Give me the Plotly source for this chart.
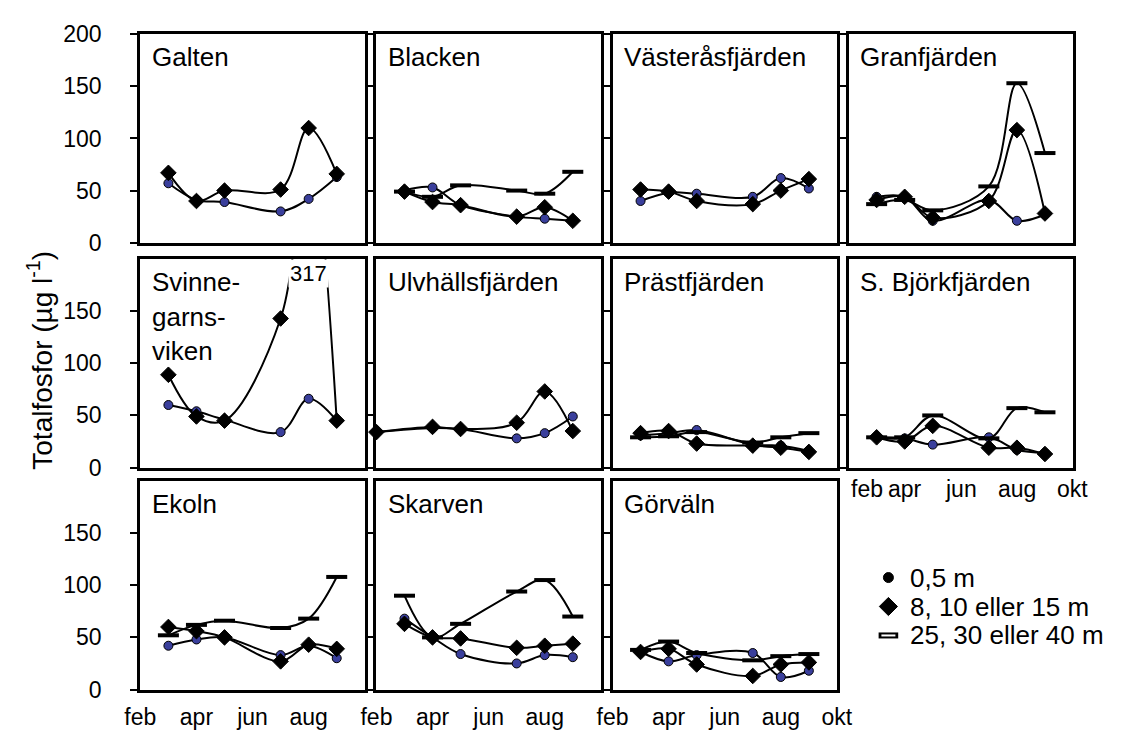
import plotly.graph_objects as go

# ---------------- data (µg/l) ----------------
month_labels = ["feb", "apr", "jun", "aug", "okt"]
month_ticks = [2, 4, 6, 8, 10]

x_std = [3, 4, 5, 7, 8, 9]
x_ulv = [2, 4, 5, 7, 8, 9]

galten_s = [57, 41, 39, 30, 42, 63]
galten_m = [67, 40, 50, 51, 110, 66]

blacken_s = [50, 53, 36, 25, 23, 21]
blacken_m = [49, 39, 36, 25, 34, 21]
blacken_d = [49, 44, 55, 50, 47, 68]

vasteras_s = [40, 48, 47, 44, 62, 52]
vasteras_m = [51, 49, 40, 37, 50, 61]

granf_s = [44, 44, 21, 41, 21, 27]
granf_m = [41, 44, 24, 40, 108, 28]
granf_d = [37, 41, 31, 54, 153, 86]

svinne_s = [60, 54, 46, 34, 66, 45]
svinne_m = [89, 49, 45, 143, 317, 45]

ulv_s = [34, 38, 37, 28, 33, 49]
ulv_m = [34, 39, 37, 43, 73, 35]

prast_s = [31, 33, 36, 22, 21, 16]
prast_m = [33, 35, 23, 21, 19, 15]
prast_d = [29, 30, 34, 24, 29, 33]

bjork_s = [29, 28, 22, 29, 17, 14]
bjork_m = [29, 25, 40, 19, 19, 13]
bjork_d = [29, 29, 50, 28, 57, 53]

ekoln_s = [42, 48, 50, 33, 42, 30]
ekoln_m = [60, 56, 50, 27, 43, 39]
ekoln_d = [52, 62, 66, 59, 68, 108]

skarven_s = [68, 50, 34, 25, 33, 31]
skarven_m = [63, 50, 49, 40, 42, 44]
skarven_d = [90, 50, 63, 94, 105, 70]

gorvaln_s = [36, 27, 33, 35, 12, 18]
gorvaln_m = [36, 39, 24, 13, 24, 26]
gorvaln_d = [38, 46, 35, 28, 32, 34]

panels = [
    ("Galten", 0, 0, x_std, galten_s, galten_m, None),
    ("Blacken", 0, 1, x_std, blacken_s, blacken_m, blacken_d),
    ("Västeråsfjärden", 0, 2, x_std, vasteras_s, vasteras_m, None),
    ("Granfjärden", 0, 3, x_std, granf_s, granf_m, granf_d),
    ("Svinne-|garns-|viken", 1, 0, x_std, svinne_s, svinne_m, None),
    ("Ulvhällsfjärden", 1, 1, x_ulv, ulv_s, ulv_m, None),
    ("Prästfjärden", 1, 2, x_std, prast_s, prast_m, prast_d),
    ("S. Björkfjärden", 1, 3, x_std, bjork_s, bjork_m, bjork_d),
    ("Ekoln", 2, 0, x_std, ekoln_s, ekoln_m, ekoln_d),
    ("Skarven", 2, 1, x_std, skarven_s, skarven_m, skarven_d),
    ("Görväln", 2, 2, x_std, gorvaln_s, gorvaln_m, gorvaln_d),
]

legend_names = ["0,5 m", "8, 10 eller 15 m", "25, 30 eller 40 m"]

# ---------------- layout geometry ----------------
W, H = 1123, 744
col_left = [128, 371, 614, 857]
col_w = 231
row_top = [22, 255, 485]
row_h = 216
YMAX = 200
FONT = "Liberation Sans, Arial, Helvetica, sans-serif"
BLUE = "#3a3f9c"
TICK_FS = 23
NAME_FS = 26

fig = go.Figure()
layout = dict(
    width=W, height=H, margin=dict(l=0, r=0, t=0, b=0),
    paper_bgcolor="white", plot_bgcolor="white",
    font=dict(family=FONT, size=TICK_FS, color="black"),
    showlegend=False,
)
annotations = []

bottom_panels = {(2, 0), (2, 1), (2, 2)}
side_panel = (1, 3)   # its month labels are written as text (first one left-aligned)

for i, (name, r, c, xs, s, m, d) in enumerate(panels):
    k = i + 1
    xa = "x" if k == 1 else f"x{k}"
    ya = "y" if k == 1 else f"y{k}"
    x0 = col_left[c]
    y0 = row_top[r]
    is_bottom = (r, c) in bottom_panels
    if c in (0, 1):
        tv, tt = month_ticks[:4], month_labels[:4]
    else:
        tv, tt = month_ticks, month_labels
    layout["xaxis" if k == 1 else f"xaxis{k}"] = dict(
        domain=[x0 / W, (x0 + col_w) / W], range=[2, 10], anchor=ya,
        showline=True, mirror=True, linecolor="black", linewidth=2.5,
        showgrid=False, zeroline=False, ticks="",
        tickvals=tv, ticktext=tt, showticklabels=is_bottom, ticklabelstandoff=5,
        tickfont=dict(size=TICK_FS), fixedrange=True,
    )
    if (r, c) == side_panel:
        for tvv, ttt in zip(tv, tt):
            annotations.append(dict(
                x=tvv, y=1 - (y0 + row_h + 22) / H, xref=xa, yref="paper",
                text=ttt, showarrow=False,
                xanchor="left" if tvv == tv[0] else "center", yanchor="middle",
                font=dict(size=TICK_FS),
            ))
    yt = [0, 50, 100, 150, 200] if r == 0 else [0, 50, 100, 150]
    layout["yaxis" if k == 1 else f"yaxis{k}"] = dict(
        domain=[1 - (y0 + row_h) / H, 1 - y0 / H], range=[0, YMAX], anchor=xa,
        showline=True, mirror=True, linecolor="black", linewidth=2.5,
        showgrid=False, zeroline=False, ticks="outside", ticklen=8,
        tickwidth=2, tickcolor="black", tickvals=yt,
        ticktext=[f"{v}\u2002" for v in yt], ticklabelstandoff=12,
        showticklabels=(c == 0), tickfont=dict(size=TICK_FS), fixedrange=True,
    )

    series = [(s, "circle", BLUE, 9, 1), (m, "diamond", "black", 12, 1)]
    if d is not None:
        series.append((d, "line-ew", "black", 15, 4))
    for vals, sym, col, sz, lw in series:
        # smooth line through all values (clipped by the axes)
        fig.add_trace(go.Scatter(
            x=xs, y=vals, mode="lines", xaxis=xa, yaxis=ya,
            line=dict(color="black", width=2, shape="spline"),
            showlegend=False, hoverinfo="skip",
        ))
        # markers only for values inside the plotted range
        mv = [v if v <= YMAX else None for v in vals]
        fig.add_trace(go.Scatter(
            x=xs, y=mv, mode="markers", xaxis=xa, yaxis=ya, cliponaxis=False,
            marker=dict(symbol=sym, size=sz, color=col,
                        line=dict(color="black", width=lw)),
            showlegend=False,
        ))
        # label values beyond the range
        for xv, v in zip(xs, vals):
            if v > YMAX:
                annotations.append(dict(
                    x=xv, y=186, xref=xa, yref=ya, text=str(v), showarrow=False,
                    font=dict(size=22), xanchor="center", yanchor="middle",
                    bgcolor="white",
                ))

    # panel name
    lines = name.split("|")
    for j, ln in enumerate(lines):
        annotations.append(dict(
            x=(x0 + 10) / W, y=1 - (y0 + 6 + j * 36) / H, xref="paper", yref="paper",
            text=ln, showarrow=False, xanchor="left", yanchor="top",
            font=dict(size=NAME_FS),
        ))

# y-axis title
annotations.append(dict(
    x=25 / W, y=1 - 360 / H, xref="paper", yref="paper",
    text="Totalfosfor (µg l<sup>-1</sup>)", showarrow=False, textangle=-90,
    font=dict(size=28), xanchor="center", yanchor="middle",
))

# ---------------- custom legend (overlay axis in pixel units) ----------------
LX0, LX1, LY0, LY1 = 870, 1123, 565, 665
kL = len(panels) + 1
layout[f"xaxis{kL}"] = dict(domain=[LX0 / W, LX1 / W], range=[0, LX1 - LX0],
                            visible=False, fixedrange=True, anchor=f"y{kL}")
layout[f"yaxis{kL}"] = dict(domain=[1 - LY1 / H, 1 - LY0 / H], range=[LY1 - LY0, 0],
                            visible=False, fixedrange=True, anchor=f"x{kL}")
leg_y = [20, 50, 80]
leg_sym = [("circle", "black", 10, 1), ("diamond", "black", 14, 1), ("line-ew", "black", 14, 6)]
for yy, nm, (sym, col, sz, lw) in zip(leg_y, legend_names, leg_sym):
    fig.add_trace(go.Scatter(
        x=[28], y=[yy], mode="markers", xaxis=f"x{kL}", yaxis=f"y{kL}",
        marker=dict(symbol=sym, size=sz, color=col, line=dict(color="black", width=lw)),
        showlegend=False, cliponaxis=False, hoverinfo="skip",
    ))
    if sym == "line-ew":
        fig.add_trace(go.Scatter(
            x=[28], y=[yy], mode="markers", xaxis=f"x{kL}", yaxis=f"y{kL}",
            marker=dict(symbol="line-ew", size=10, line=dict(color="white", width=2)),
            showlegend=False, cliponaxis=False, hoverinfo="skip",
        ))
    annotations.append(dict(
        x=48, y=yy, xref=f"x{kL}", yref=f"y{kL}", text=nm, showarrow=False,
        xanchor="left", yanchor="middle", font=dict(size=NAME_FS),
    ))

layout["annotations"] = annotations
fig.update_layout(**layout)
fig.write_html(
    "out.html",
    config={"displayModeBar": False},
    post_script="document.body.style.margin='0';document.body.style.overflow='hidden';",
)
